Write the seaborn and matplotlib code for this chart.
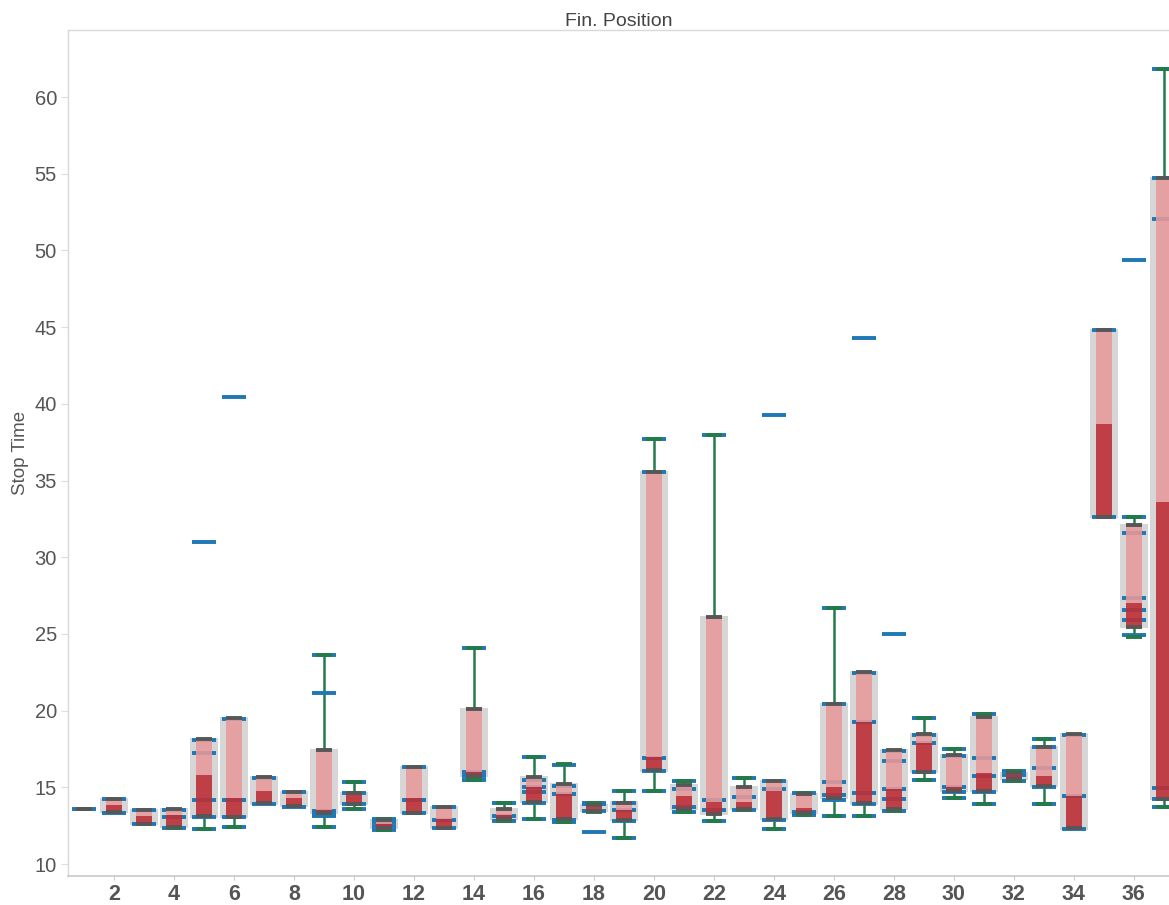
import matplotlib
matplotlib.use("Agg")
import matplotlib.pyplot as plt
import numpy as np
import pandas as pd
import seaborn as sns

# Finishing position of each driver
positions = list(range(1, 38))

# Box-plot summary of pit-stop times per finishing position
whisker_hi = [13.60, 14.25, 13.52, 13.58, 18.12, 19.49, 15.65, 14.71, 23.62, 15.37,
              12.95, 16.34, 13.74, 24.06, 14.00, 16.95, 16.49, 14.00, 14.78, 37.69,
              15.41, 37.97, 15.58, 15.43, 14.65, 26.67, 22.50, 17.43, 19.54, 17.50,
              19.78, 16.05, 18.12, 18.45, 44.80, 32.64, 61.80]
box_hi = [13.60, 14.25, 13.52, 13.58, 18.12, 19.49, 15.65, 14.71, 17.43, 14.65,
          12.87, 16.34, 13.74, 20.08, 13.58, 15.65, 15.21, 13.85, 14.01, 35.58,
          15.15, 26.12, 14.99, 15.43, 14.55, 20.43, 22.50, 17.43, 18.45, 17.10,
          19.60, 15.95, 17.65, 18.45, 44.80, 32.10, 54.74]
median = [13.60, 13.82, 13.11, 13.19, 15.80, 14.28, 14.78, 14.33, 13.52, 14.55,
          12.61, 14.28, 12.91, 15.98, 13.19, 15.00, 14.55, 13.75, 13.55, 16.95,
          14.43, 14.02, 14.06, 14.77, 13.65, 15.00, 19.28, 14.87, 17.90, 15.00,
          15.91, 15.80, 15.74, 14.45, 38.68, 27.03, 33.62]
box_lo = [13.60, 13.40, 12.59, 12.40, 13.10, 13.04, 13.95, 13.76, 13.30, 13.92,
          12.33, 13.35, 12.37, 15.72, 12.93, 14.06, 12.93, 13.45, 12.85, 16.10,
          13.60, 13.24, 13.56, 12.93, 13.30, 14.28, 13.95, 13.56, 16.01, 14.76,
          14.76, 15.55, 15.10, 12.32, 32.60, 25.47, 14.22]
whisker_lo = [13.60, 13.40, 12.59, 12.37, 12.28, 12.43, 13.95, 13.76, 12.43, 13.58,
              12.22, 13.35, 12.37, 15.48, 12.82, 12.91, 12.76, 13.40, 11.72, 14.76,
              13.36, 12.83, 13.52, 12.26, 13.20, 13.15, 13.15, 13.45, 15.48, 14.28,
              13.89, 15.40, 13.91, 12.32, 32.60, 24.80, 13.70]

# Individual stop times recorded at each finishing position
stop_times = [
    [13.60],
    [14.22, 13.35],
    [13.50, 12.60],
    [13.55, 13.05, 12.37],
    [18.10, 17.26, 14.17, 13.08, 12.28, 31.00],
    [19.45, 14.20, 13.04, 12.43, 40.44],
    [15.60, 13.90],
    [14.68, 13.72],
    [23.62, 21.15, 13.48, 13.30, 13.15, 12.43],
    [15.37, 14.60, 13.89, 13.58],
    [12.93, 12.75, 12.45, 12.22],
    [16.30, 14.20, 13.35],
    [13.70, 12.85, 12.33],
    [24.06, 16.00, 15.75, 15.48],
    [13.95, 13.13, 12.82],
    [16.95, 15.50, 15.04, 14.67, 14.00, 12.91],
    [16.45, 15.10, 14.55, 12.90, 12.76],
    [14.00, 13.90, 13.45, 12.11],
    [14.78, 13.95, 13.52, 12.82, 11.72],
    [37.69, 35.58, 16.90, 16.06, 14.76],
    [15.41, 14.87, 13.74, 13.36],
    [37.97, 14.17, 13.52, 12.83],
    [15.58, 14.39, 13.52],
    [15.43, 14.86, 12.87, 12.26, 39.27],
    [14.60, 13.40, 13.20],
    [26.67, 20.43, 15.37, 14.48, 14.20, 13.15],
    [22.45, 19.28, 14.60, 13.90, 13.15, 44.29],
    [17.40, 16.74, 14.86, 14.24, 13.48, 25.00],
    [19.54, 18.40, 17.86, 16.00, 15.48],
    [17.50, 17.05, 15.00, 14.67, 14.28],
    [19.78, 16.89, 15.74, 14.71, 13.91],
    [16.05, 15.80, 15.40],
    [18.12, 17.60, 16.23, 15.00, 13.91],
    [18.40, 14.45, 12.30],
    [44.80, 32.60],
    [32.64, 31.60, 27.32, 26.56, 25.91, 24.93, 49.37],
    [61.80, 54.70, 52.05, 14.93, 14.22, 13.70],
]

x_tick_values = list(range(2, 37, 2))
y_tick_values = list(range(10, 61, 5))

GRAY_BOX = "#d6d6d6"
PINK = "#e8999b"
DARK_RED = "#bd2f36"
CAP_GRAY = "#575757"
WHISKER_GREEN = "#237a4b"
TICK_BLUE = "#1f77b4"
TEXT = "#555555"

sns.set_theme(style="white")
plt.rcParams["font.family"] = ["Liberation Sans", "DejaVu Sans"]

fig = plt.figure(figsize=(11.69, 9.05), dpi=100)
ax = fig.add_axes([68 / 1169, 29 / 905, 1 - 68 / 1169, (876 - 30) / 905])

box = pd.DataFrame({
    "pos": positions,
    "lo": box_lo,
    "hi": box_hi,
    "med": median,
})
pad = 0.07
box["span"] = np.where(box["hi"] > box["lo"], box["hi"] - box["lo"] + 2 * pad, 0.0)
box["upper"] = box["hi"] - box["med"]
box["lower"] = box["med"] - box["lo"]

common = dict(x="pos", native_scale=True, errorbar=None, saturation=1,
              linewidth=0, ax=ax)

# wide gray backdrop box
sns.barplot(data=box, y="span", width=0.94, color=GRAY_BOX,
            bottom=(box["lo"] - pad).to_numpy(), zorder=1, **common)
# upper half of the box (median to third quartile)
sns.barplot(data=box, y="upper", width=0.53, color=PINK, alpha=0.88,
            bottom=box["med"].to_numpy(), zorder=4, **common)
# lower half of the box (first quartile to median)
sns.barplot(data=box, y="lower", width=0.53, color=DARK_RED, alpha=0.9,
            bottom=box["lo"].to_numpy(), zorder=4, **common)

pos = np.array(positions, dtype=float)
w_hi = np.array(whisker_hi)
w_lo = np.array(whisker_lo)
b_hi = np.array(box_hi)
b_lo = np.array(box_lo)

# whisker stems
up = w_hi > b_hi
dn = w_lo < b_lo
ax.vlines(pos[up], b_hi[up], w_hi[up], color=WHISKER_GREEN, lw=1.8, zorder=2)
ax.vlines(pos[dn], w_lo[dn], b_lo[dn], color=WHISKER_GREEN, lw=1.8, zorder=2)

# individual stop times as short dashes
pts_x = np.concatenate([[p] * len(v) for p, v in zip(positions, stop_times)])
pts_y = np.concatenate(stop_times)
ax.hlines(pts_y, pts_x - 0.39, pts_x + 0.39, color=TICK_BLUE, lw=2.8, zorder=3)

# whisker caps
ax.hlines(w_hi[up], pos[up] - 0.28, pos[up] + 0.28, color=WHISKER_GREEN, lw=2.8, zorder=5)
ax.hlines(w_lo[dn], pos[dn] - 0.28, pos[dn] + 0.28, color=WHISKER_GREEN, lw=2.8, zorder=5)

# quartile edges
ax.hlines(b_hi, pos - 0.265, pos + 0.265, color=CAP_GRAY, lw=2.8, zorder=6)
ax.hlines(b_lo, pos - 0.265, pos + 0.265, color=CAP_GRAY, lw=2.8, zorder=6)

ax.set_xlim(0.467, 37.17)
ax.set_ylim(9.22, 64.37)
ax.set_xticks(x_tick_values)
ax.set_xticklabels([str(v) for v in x_tick_values], fontsize=15.5,
                   fontweight="bold", color=TEXT)
ax.set_yticks(y_tick_values)
ax.set_yticklabels([str(v) for v in y_tick_values], fontsize=14.5, color=TEXT)
ax.tick_params(axis="x", length=3, width=0.8, color="#cccccc", pad=3, bottom=True)
ax.tick_params(axis="y", length=5, width=0.8, color="#dddddd", pad=3, left=True)
ax.set_xlabel("")
ax.set_ylabel("Stop Time", fontsize=13.5, color=TEXT, labelpad=4)
ax.set_title("Fin. Position", fontsize=14, color="#444444", pad=3)

for side in ("left", "top"):
    ax.spines[side].set_color("#d9d9d9")
    ax.spines[side].set_linewidth(1.0)
ax.spines["bottom"].set_color("#c8c8c8")
ax.spines["bottom"].set_linewidth(1.2)
ax.spines["right"].set_visible(False)

fig.savefig("out.png", dpi=100)
